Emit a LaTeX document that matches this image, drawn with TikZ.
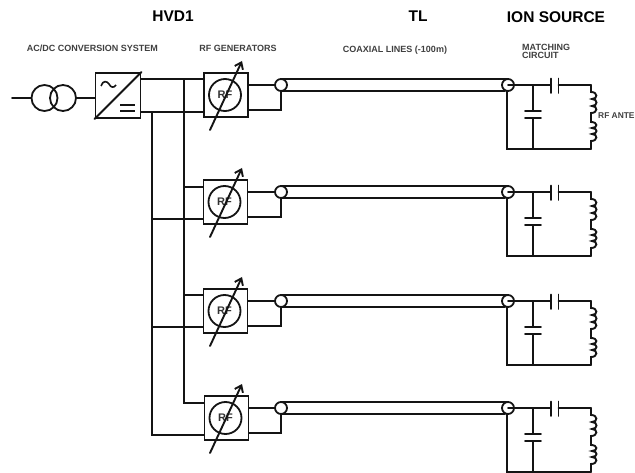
\documentclass[tikz,border=0pt]{standalone}
\usepackage{fontspec}
\setmainfont{Liberation Sans}
\usetikzlibrary{arrows.meta}
\tikzset{
  wire/.style={line width=1.9pt,line join=miter,line cap=round,color=black!92},
  thinwire/.style={line width=1.6pt,color=black!92},
  boxnode/.style={draw=black!92,line width=1.9pt,minimum size=44pt,inner sep=0pt},
  rfnode/.style={circle,draw=black!92,line width=1.8pt,minimum size=32pt,inner sep=0pt,font=\bfseries\fontsize{11}{11}\selectfont,text=black!80},
  endnode/.style={circle,draw=black!92,line width=1.8pt,fill=white,minimum size=12pt,inner sep=0pt},
  head/.style={font=\bfseries\fontsize{15.5}{15.5}\selectfont,text=black},
  lab/.style={font=\bfseries\fontsize{9}{8}\selectfont,text=black!75,align=left,inner sep=0pt},
  trafo/.style={circle,draw=black!92,line width=1.8pt,minimum size=26pt,inner sep=0pt},
}
\begin{document}
\begin{tikzpicture}[x=1pt,y=-1pt]
\useasboundingbox[fill=white] (0,0) rectangle (635,473);
% headings
\node[head] (hvd) at (173,16) {HVD1};
\node[head] (tl) at (418,16) {TL};
\node[head] (ion) at (556,17) {ION SOURCE};
\node[lab] (l1) at (92.5,48) {AC/DC CONVERSION SYSTEM};
\node[lab] (l2) at (238,48) {RF GENERATORS};
\node[lab] (l3) at (395,50) {COAXIAL LINES (-100m)};
\node[lab,anchor=west] (l4) at (522,51.5) {MATCHING\\CIRCUIT};
\node[lab,anchor=west,font=\bfseries\fontsize{8.4}{8}\selectfont] (l5) at (598,115.5) {RF ANTE};
% mains and transformer
\coordinate (in) at (12,98);
\node[trafo] (t1) at (44.5,98) {};
\node[trafo] (t2) at (63,98) {};
\node[boxnode,minimum size=45pt] (conv) at (118,95.5) {};
\draw[wire] (in) -- (t1.west);
\draw[wire] (t2.east) -- (conv.west |- t2.east);
\draw[wire] (conv.south west) -- (conv.north east);
\draw[thinwire] (101,86) .. controls (103,80) and (107,81) .. (109,84) .. controls (111,88) and (114,88) .. (116,85);
\draw[thinwire] (120,105) -- (135,105) (120,111) -- (135,111);
% rows
\foreach \r/\dy/\bx in {1/0/226,2/107/225.5,3/216/225.5,4/323/226.5}{
  \node[boxnode] (g\r) at (\bx,95+\dy) {};
  \node[rfnode] (rf\r) at (\bx-1,95+\dy) {RF};
  \draw[wire,-{Straight Barb[length=6pt,width=9pt]}] (210,130+\dy) -- (242,61+\dy);
  \draw[wire] (281,79+\dy) -- (508,79+\dy);
  \draw[wire] (281,91+\dy) -- (505,91+\dy);
  \node[endnode] (a\r) at (281,85+\dy) {};
  \node[endnode] (b\r) at (508,85+\dy) {};
  \draw[wire] (g\r.east |- a\r) -- (a\r.west);
  \draw[wire] (g\r.east |- 0,110+\dy) -- (a\r.south |- 0,110+\dy) -- (a\r.south);
  % matching circuit
  \coordinate (top\r) at (533,85+\dy);
  \coordinate (bot\r) at (533,149+\dy);
  \coordinate (cr\r) at (591,85+\dy);
  \coordinate (br\r) at (591,149+\dy);
  \draw[wire] (b\r.center) -- (551,85+\dy);
  \draw[wire] (551,78.5+\dy) -- (551,93+\dy);
  \draw[wire] (558.5,78.5+\dy) -- (558.5,93+\dy);
  \draw[wire] (558.5,85+\dy) -- (cr\r);
  \draw[wire] (top\r) -- (533,111+\dy);
  \draw[wire] (525,111+\dy) -- (541,111+\dy);
  \draw[wire] (525,118+\dy) -- (541,118+\dy);
  \draw[wire] (533,118+\dy) -- (bot\r);
  \draw[wire] (507,91+\dy) -- (507,149+\dy) -- (br\r);
  \draw[wire] (cr\r) -- (591,92+\dy)
    .. controls (598,92+\dy) and (598,99+\dy) .. (592,99+\dy)
    .. controls (598,99+\dy) and (598,106+\dy) .. (592,106+\dy)
    .. controls (598,106+\dy) and (598,113+\dy) .. (591,113+\dy)
    -- (591,122+\dy)
    .. controls (598,122+\dy) and (598,128+\dy) .. (592,128+\dy)
    .. controls (598,128+\dy) and (598,134+\dy) .. (592,134+\dy)
    .. controls (598,134+\dy) and (598,141+\dy) .. (591,141+\dy)
    -- (br\r);
}
% buses
\draw[wire] (conv.east |- 0,79) -- (g1.west |- 0,79);
\draw[wire] (conv.east |- 0,112) -- (g1.west |- 0,112);
\draw[wire] (184,79) -- (184,403) -- (g4.west |- 0,403);
\draw[wire] (152,112) -- (152,435) -- (g4.west |- 0,435);
\draw[wire] (184,187) -- (g2.west |- 0,187);
\draw[wire] (152,219) -- (g2.west |- 0,219);
\draw[wire] (184,295) -- (g3.west |- 0,295);
\draw[wire] (152,327) -- (g3.west |- 0,327);
\end{tikzpicture}
\end{document}
